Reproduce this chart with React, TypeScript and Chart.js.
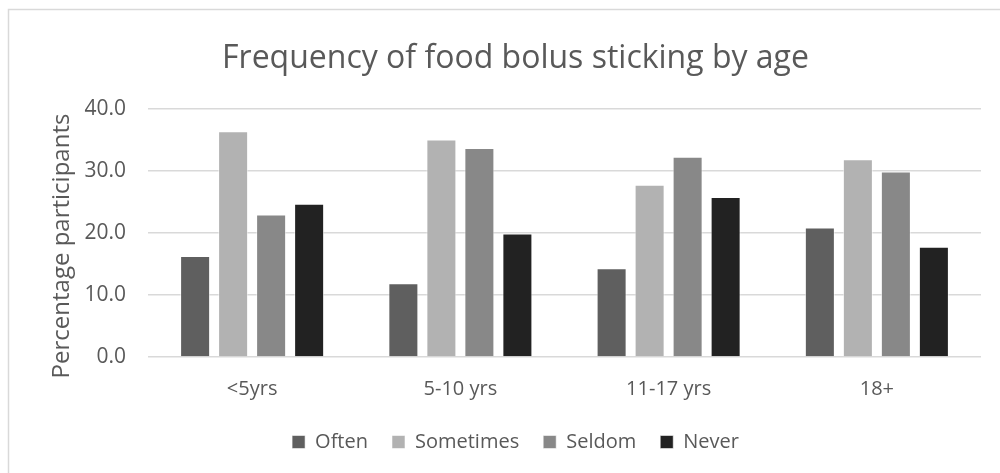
import React, { useEffect, useRef } from "react";
import { Chart, registerables } from "chart.js";

Chart.register(...registerables);

const categories = ["<5yrs", "5-10 yrs", "11-17 yrs", "18+"];
const seriesNames = ["Often", "Sometimes", "Seldom", "Never"];
const often = [16.3, 11.9, 14.3, 20.9];
const sometimes = [36.4, 35.1, 27.8, 31.9];
const seldom = [23.0, 33.7, 32.3, 29.9];
const never = [24.7, 19.9, 25.8, 17.8];
const seriesColors = ["#5f5f5f", "#b2b2b2", "#888888", "#222222"];
const yTicks = [0, 10, 20, 30, 40];
const yAxisTitle = "Percentage participants";

const FONT = "'Open Sans', sans-serif";
const TEXT = "#595959";

const borderPlugin = {
  id: "outerBorder",
  beforeDraw(chart: any) {
    const ctx = chart.ctx;
    ctx.save();
    ctx.fillStyle = "#ffffff";
    ctx.fillRect(0, 0, chart.width, chart.height);
    ctx.strokeStyle = "#d9d9d9";
    ctx.lineWidth = 1.5;
    ctx.beginPath();
    ctx.moveTo(8.5, chart.height + 10);
    ctx.lineTo(8.5, 9.5);
    ctx.lineTo(chart.width + 10, 9.5);
    ctx.stroke();
    ctx.restore();
  },
  afterDraw(chart: any) {
    const ctx = chart.ctx;
    ctx.save();
    ctx.translate(62, 246);
    ctx.rotate(-Math.PI / 2);
    ctx.fillStyle = TEXT;
    ctx.font = `24px ${FONT}`;
    ctx.textAlign = "center";
    ctx.textBaseline = "middle";
    ctx.fillText(yAxisTitle, 0, 0);
    ctx.restore();
  },
};

export default function App() {
  const ref = useRef<HTMLCanvasElement | null>(null);

  useEffect(() => {
    if (!ref.current) return;
    const values = [often, sometimes, seldom, never];
    const chart = new Chart(ref.current, {
      type: "bar",
      data: {
        labels: categories,
        datasets: seriesNames.map((name, i) => ({
          label: name,
          data: values[i],
          backgroundColor: seriesColors[i],
          borderColor: "rgba(255,255,255,0.55)",
          borderWidth: 1,
          categoryPercentage: 0.73,
          barPercentage: 0.79,
        })),
      },
      options: {
        responsive: false,
        animation: false,
        layout: { padding: { left: 50, right: 19, top: 0, bottom: 11 } },
        plugins: {
          title: {
            display: true,
            text: "Frequency of food bolus sticking by age",
            color: TEXT,
            font: { family: FONT, size: 32, weight: "normal", lineHeight: 1.2 },
            padding: { top: 40, bottom: 30.6 },
          },
          legend: {
            position: "bottom",
            labels: {
              color: TEXT,
              font: { family: FONT, size: 20 },
              boxWidth: 13,
              boxHeight: 13,
              padding: 24,
            },
          },
          tooltip: { enabled: false },
        },
        scales: {
          x: {
            grid: { display: false, drawTicks: false },
            border: { display: false },
            ticks: {
              color: TEXT,
              font: { family: FONT, size: 20 },
              padding: 20,
            },
            afterFit(scale: any) {
              scale.height = 51;
            },
          },
          y: {
            min: 0,
            max: 40,
            afterBuildTicks(scale: any) {
              scale.ticks = yTicks.map((v) => ({ value: v }));
            },
            grid: { color: "#d9d9d9", lineWidth: 1.5, drawTicks: false },
            border: { display: false },
            ticks: {
              color: TEXT,
              font: { family: FONT, size: 21 },
              padding: 22,
              callback: (v: any) => Number(v).toFixed(1),
            },
            afterFit(scale: any) {
              scale.width = 98;
            },
          },
        },
      },
      plugins: [borderPlugin],
    });
    return () => chart.destroy();
  }, []);

  return (
    <div style={{ position: "fixed", left: 0, top: 0, width: 1000, height: 473 }}>
      <canvas ref={ref} width={1000} height={473} style={{ display: "block" }} />
    </div>
  );
}
